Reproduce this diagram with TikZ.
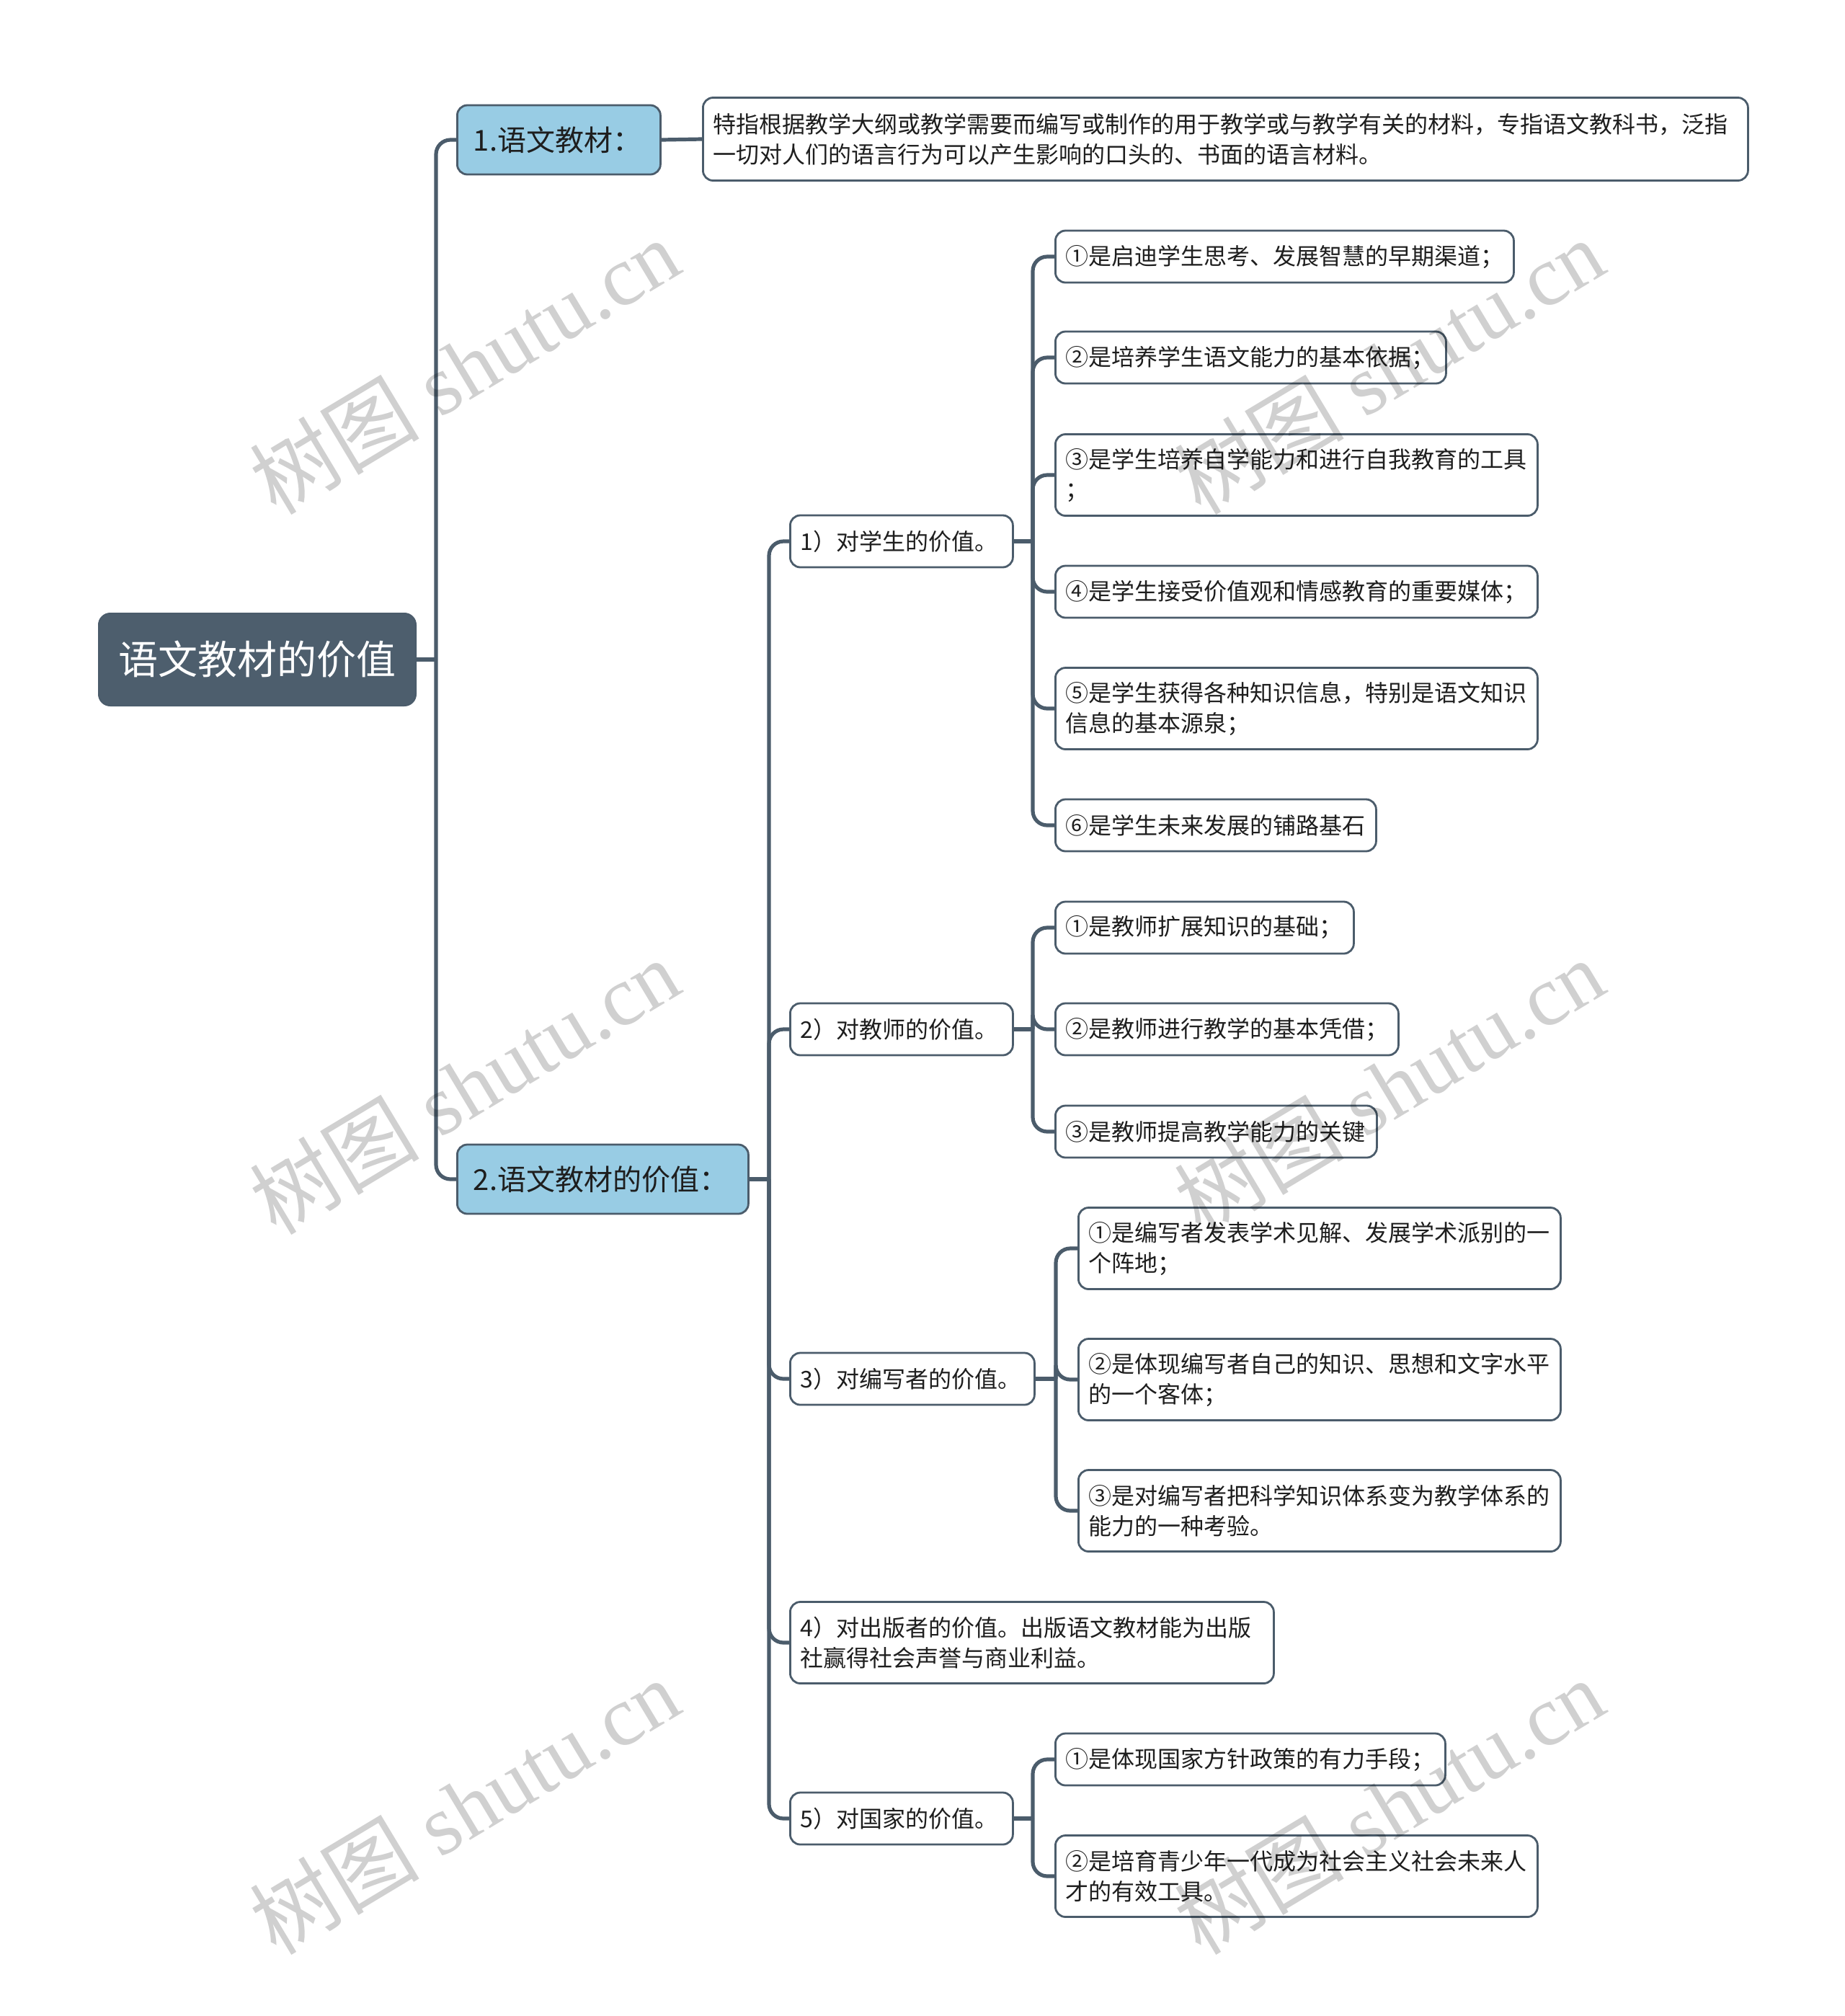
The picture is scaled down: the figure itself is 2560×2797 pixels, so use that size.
\documentclass[tikz,border=0pt]{standalone}
\usepackage{fontspec}
\setmainfont{Noto Sans CJK SC}
\newfontfamily\wmlatin{Liberation Serif}
\newfontfamily\wmcjk{Noto Sans CJK SC}
\usetikzlibrary{positioning}
\definecolor{linec}{HTML}{4B5C6B}
\definecolor{rootc}{HTML}{4D5E6D}
\definecolor{bluec}{HTML}{98CCE4}
\definecolor{wmc}{HTML}{D0D0D0}
\definecolor{txtc}{HTML}{1E1E1E}
\tikzset{
  conn/.style={draw=linec, line width=1.3pt, rounded corners=5pt},
  stub/.style={draw=linec, line width=1.3pt},
  rootbox/.style={fill=rootc, draw=linec, line width=0.5pt, rounded corners=4pt, text=white,
    font=\fontsize{13.75}{16}\selectfont, minimum height=32pt, inner xsep=7pt, anchor=west, align=center},
  bluebox/.style={fill=bluec, draw=linec, line width=0.7pt, rounded corners=3.5pt, text=txtc,
    font=\fontsize{10}{12}\selectfont, minimum height=24pt, inner xsep=5.6pt, anchor=west, align=left},
  leafbox/.style={fill=white, draw=linec, line width=0.7pt, rounded corners=3.5pt, text=txtc,
    font=\fontsize{8}{10.5}\selectfont, minimum height=18pt, inner xsep=3.5pt, inner ysep=2pt, anchor=west, align=left},
  tall/.style={minimum height=28.25pt},
  wm/.style={text=wmc, font=\fontsize{29.5}{34}\selectfont, rotate=31, inner sep=0pt}
}
\begin{document}
\begin{tikzpicture}[x=0.25pt, y=-0.25pt]
\useasboundingbox (0,0) rectangle (2560,2797);
% root and first level
\node[rootbox, text width=96pt] (root) at (136,915) {语文教材的价值};
\node[bluebox, text width=59.3pt] (b1) at (633,194) {1.语文教材：};
\node[bluebox, text width=89.8pt] (b2) at (633,1636) {2.语文教材的价值：};
\node[leafbox, text width=355.5pt, minimum height=28.75pt] (desc) at (974,193) {特指根据教学大纲或教学需要而编写或制作的用于教学或与教学有关的材料，专指语文教科书，泛指\\一切对人们的语言行为可以产生影响的口头的、书面的语言材料。};
% second level
\node[leafbox, text width=70.25pt] (s1) at (1095,751) {1）对学生的价值。};
\node[leafbox, text width=70.25pt] (s2) at (1095,1428) {2）对教师的价值。};
\node[leafbox, text width=77.75pt] (s3) at (1095,1913) {3）对编写者的价值。};
\node[leafbox, tall, text width=160.75pt] (s4) at (1095,2279) {4）对出版者的价值。出版语文教材能为出版\\社赢得社会声誉与商业利益。};
\node[leafbox, text width=70.25pt] (s5) at (1095,2523) {5）对国家的价值。};
% children of s1
\node[leafbox, text width=152pt] (a1) at (1463,356) {①是启迪学生思考、发展智慧的早期渠道；};
\node[leafbox, text width=128.5pt] (a2) at (1463,496) {②是培养学生语文能力的基本依据；};
\node[leafbox, tall, text width=160.25pt] (a3) at (1463,659) {③是学生培养自学能力和进行自我教育的工具\\；};
\node[leafbox, text width=160.25pt] (a4) at (1463,821) {④是学生接受价值观和情感教育的重要媒体；};
\node[leafbox, tall, text width=160.25pt] (a5) at (1463,983) {⑤是学生获得各种知识信息，特别是语文知识\\信息的基本源泉；};
\node[leafbox, text width=104.25pt] (a6) at (1463,1145) {⑥是学生未来发展的铺路基石};
% children of s2
\node[leafbox, text width=96.5pt] (c1) at (1463,1287) {①是教师扩展知识的基础；};
\node[leafbox, text width=112pt] (c2) at (1463,1428) {②是教师进行教学的基本凭借；};
\node[leafbox, text width=104.5pt] (c3) at (1463,1570) {③是教师提高教学能力的关键};
% children of s3
\node[leafbox, tall, text width=160.25pt] (d1) at (1495,1732) {①是编写者发表学术见解、发展学术派别的一\\个阵地；};
\node[leafbox, tall, text width=160.25pt] (d2) at (1495,1914) {②是体现编写者自己的知识、思想和文字水平\\的一个客体；};
\node[leafbox, tall, text width=160.25pt] (d3) at (1495,2096) {③是对编写者把科学知识体系变为教学体系的\\能力的一种考验。};
% children of s5
\node[leafbox, text width=128.25pt] (e1) at (1463,2441) {①是体现国家方针政策的有力手段；};
\node[leafbox, tall, text width=160.25pt] (e2) at (1463,2603) {②是培育青少年一代成为社会主义社会未来人\\才的有效工具。};
% junctions
\coordinate (jr) at (605,915);
\coordinate (jb2) at (1067,1636);
\coordinate (js1) at (1433,751);
\coordinate (js2) at (1433,1428);
\coordinate (js3) at (1465,1913);
\coordinate (js5) at (1433,2523);
% connectors
\draw[stub] (root.east) -- (jr);
\draw[conn] (jr) |- (b1.west);
\draw[conn] (jr) |- (b2.west);
\draw[stub] (b1.east) -- (desc.west);
\draw[stub] (b2.east) -- (jb2);
\foreach \n in {s1,s2,s3,s4,s5} \draw[conn] (jb2) |- (\n.west);
\draw[stub] (s1.east) -- (js1);
\foreach \n in {a1,a2,a3,a4,a5,a6} \draw[conn] (js1) |- (\n.west);
\draw[stub] (s2.east) -- (js2);
\foreach \n in {c1,c2,c3} \draw[conn] (js2) |- (\n.west);
\draw[stub] (s3.east) -- (js3);
\foreach \n in {d1,d2,d3} \draw[conn] (js3) |- (\n.west);
\draw[stub] (s5.east) -- (js5);
\foreach \n in {e1,e2} \draw[conn] (js5) |- (\n.west);
% watermarks
\begin{scope}[blend mode=multiply]
\node[wm] (w1) at (644,508) {\wmcjk 树图\wmlatin{} shutu.cn};
\node[wm] (w2) at (1927,508) {\wmcjk 树图\wmlatin{} shutu.cn};
\node[wm] (w3) at (644,1507) {\wmcjk 树图\wmlatin{} shutu.cn};
\node[wm] (w4) at (1927,1507) {\wmcjk 树图\wmlatin{} shutu.cn};
\node[wm] (w5) at (644,2506) {\wmcjk 树图\wmlatin{} shutu.cn};
\node[wm] (w6) at (1927,2506) {\wmcjk 树图\wmlatin{} shutu.cn};
\end{scope}
\end{tikzpicture}
\end{document}
